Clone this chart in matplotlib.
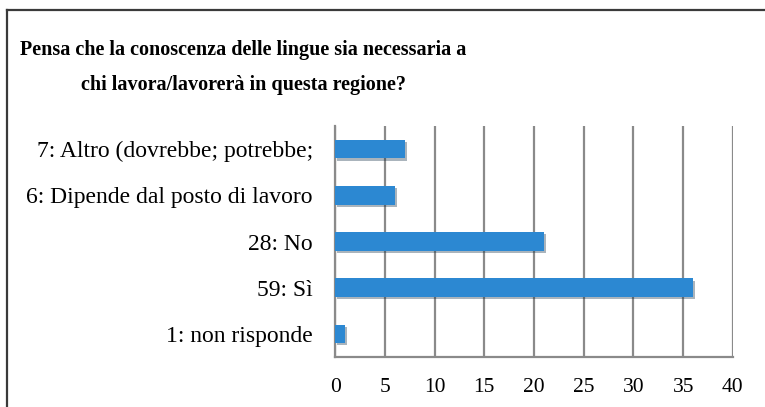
import matplotlib
matplotlib.use("Agg")
from matplotlib import pyplot as plt
from matplotlib import patheffects as pe
from matplotlib.lines import Line2D

# categories from bottom to top
categories = ["1: non risponde", "59: Sì", "28: No",
              "6: Dipende dal posto di lavoro", "7: Altro (dovrebbe; potrebbe;"]
values = [1, 36, 21, 6, 7]
xticks = [0, 5, 10, 15, 20, 25, 30, 35, 40]

title = "Pensa che la conoscenza delle lingue sia necessaria a\nchi lavora/lavorerà in questa regione?"

fig = plt.figure(figsize=(7.65, 4.07), dpi=100)
ax = fig.add_axes([0.438, 0.123, 0.520, 0.567])

ypos = list(range(len(categories)))
ax.barh(ypos, values, height=0.4, color="#2c88d2", zorder=3,
        path_effects=[pe.SimplePatchShadow(offset=(1.5, -1.5), alpha=0.35),
                      pe.Normal()])

ax.set_xlim(0, 40)
ax.set_ylim(-0.5, len(categories) - 0.5)
ax.set_xticks(xticks)
ax.set_xticklabels([str(t) for t in xticks], family="Liberation Serif", fontsize=15.5)
ax.set_yticks(ypos)
ax.set_yticklabels(categories, family="Liberation Serif", fontsize=17)
ax.tick_params(axis="both", length=0)
ax.tick_params(axis="x", pad=15)
ax.tick_params(axis="y", pad=16)

ax.grid(axis="x", color="#8a8a8a", linewidth=1.6, zorder=0)
ax.set_axisbelow(True)
for s in ["top", "right"]:
    ax.spines[s].set_visible(False)
for s in ["left", "bottom"]:
    ax.spines[s].set_color("#8a8a8a")
    ax.spines[s].set_linewidth(1.6)

fig.text(0.318, 0.835, title, ha="center", va="center", fontsize=14.5,
         family="Liberation Serif", fontweight="bold",
         linespacing=2.0)

# outer frame (left and top edges only visible)
fig.add_artist(Line2D([0.009, 0.009], [0.0, 0.975], transform=fig.transFigure,
                      color="#3a3a3a", linewidth=1.6))
fig.add_artist(Line2D([0.009, 1.0], [0.975, 0.975], transform=fig.transFigure,
                      color="#3a3a3a", linewidth=1.6))

fig.savefig("out.png", dpi=100)
